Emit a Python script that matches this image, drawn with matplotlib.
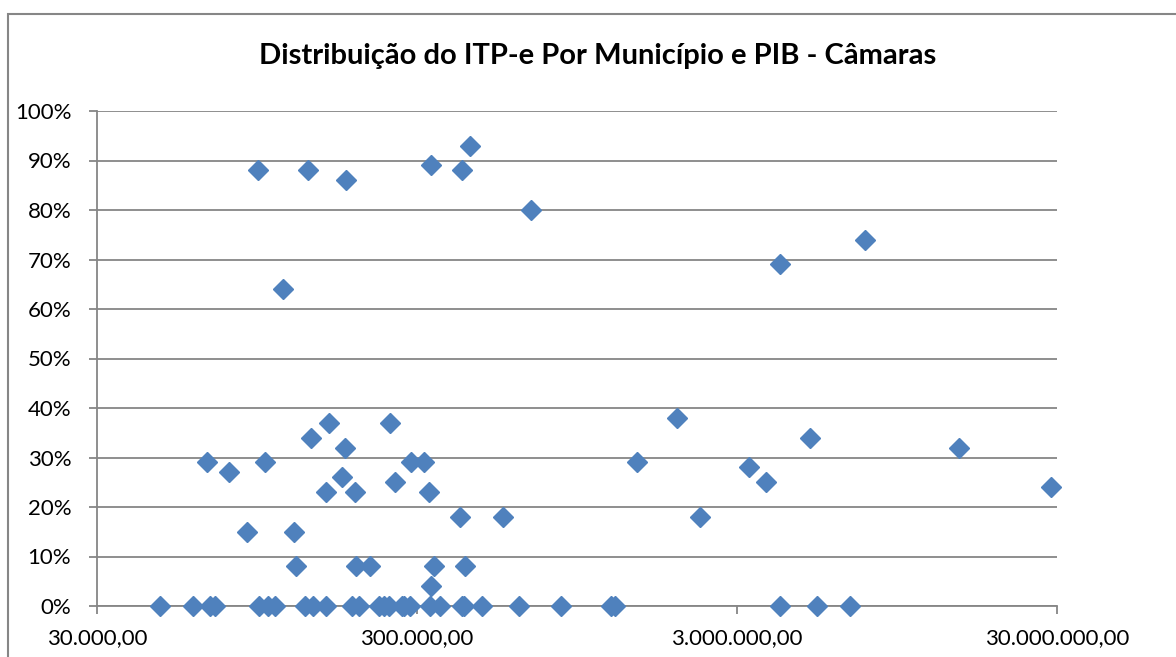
import matplotlib
matplotlib.use("Agg")
import matplotlib.pyplot as plt
from matplotlib.patches import Rectangle
from matplotlib.ticker import FixedLocator, FixedFormatter, NullLocator

title = "Distribuição do ITP-e Por Município e PIB - Câmaras"

# PIB (x, log scale) and ITP-e (y, %)
pib_zero = [47150, 59930, 67610, 70100, 96470, 102900, 108040, 134140, 142400,
            156100, 187700, 197000, 227600, 235900, 244600, 268600, 272500,
            285900, 330400, 355100, 414900, 420100, 479300, 624500, 847200,
            1212000, 1248000, 4092000, 5328000, 6779000]
itp_zero = [0] * len(pib_zero)

pib_pos = [95300, 136700, 179800, 332800, 414900, 440800, 679400, 114100,
           4092000, 7530000, 65980, 77700, 100500, 88470, 124160, 125700,
           140100, 159800, 178900, 175500, 155600, 192300, 193700, 213300,
           247600, 256700, 287600, 316600, 328200, 338300, 331100, 408100,
           423100, 557500, 1459000, 1951000, 2298000, 3263000, 3699000,
           5091000, 14870000, 28670000]
itp_pos = [88, 88, 86, 89, 88, 93, 80, 64,
           69, 74, 29, 27, 29, 15, 15, 8,
           34, 37, 32, 26, 23, 23, 8, 8,
           37, 25, 29, 29, 23, 8, 4, 18,
           8, 18, 29, 38, 18, 28, 25,
           34, 32, 24]

x_ticks = [30000, 300000, 3000000, 30000000]
x_labels = ["30.000,00", "300.000,00", "3.000.000,00", "30.000.000,00"]
y_ticks = [0, 10, 20, 30, 40, 50, 60, 70, 80, 90, 100]
y_labels = ["0%", "10%", "20%", "30%", "40%", "50%", "60%", "70%", "80%", "90%", "100%"]

plt.rcParams['font.family'] = ['Lato', 'DejaVu Sans']

W, H = 1176, 657
fig = plt.figure(figsize=(W / 100, H / 100), dpi=100)
fig.patch.set_facecolor("white")

# outer chart border (top and left visible)
fig.add_artist(Rectangle((8 / W, -0.2), 1.2, (H - 14) / H + 0.2,
                         transform=fig.transFigure, fill=False,
                         edgecolor="#868686", linewidth=1.5))

ax = fig.add_axes([97 / W, (H - 606) / H, 960 / W, 495 / H])
ax.set_xscale("log")
ax.set_xlim(30000, 30000000)
ax.set_ylim(0, 100)

grid_c = "#868686"
for s in ["top", "right"]:
    ax.spines[s].set_visible(False)
for s in ["left", "bottom"]:
    ax.spines[s].set_color(grid_c)
    ax.spines[s].set_linewidth(1.3)

ax.yaxis.set_major_locator(FixedLocator(y_ticks))
ax.yaxis.set_major_formatter(FixedFormatter(y_labels))
ax.xaxis.set_major_locator(FixedLocator(x_ticks))
ax.xaxis.set_major_formatter(FixedFormatter(x_labels))
ax.xaxis.set_minor_locator(NullLocator())
ax.yaxis.set_minor_locator(NullLocator())

ax.tick_params(axis="both", colors=grid_c, labelcolor="black", length=6,
               width=1.3, labelsize=16)
ax.tick_params(axis="y", pad=12.5)
ax.tick_params(axis="x", pad=10)

ax.grid(axis="y", color=grid_c, linewidth=1.3)
ax.set_axisbelow(True)

ax.plot(pib_zero, itp_zero, linestyle="none", marker="D", markersize=10.5,
        color="#4F81BD", clip_on=False, zorder=3)
ax.plot(pib_pos, itp_pos, linestyle="none", marker="D", markersize=10.5,
        color="#4F81BD", clip_on=False, zorder=3)

fig.text(598 / W, (H - 56) / H, title, ha="center", va="center",
         fontsize=21, fontweight="bold")

fig.savefig("out.png", dpi=100, facecolor="white")
